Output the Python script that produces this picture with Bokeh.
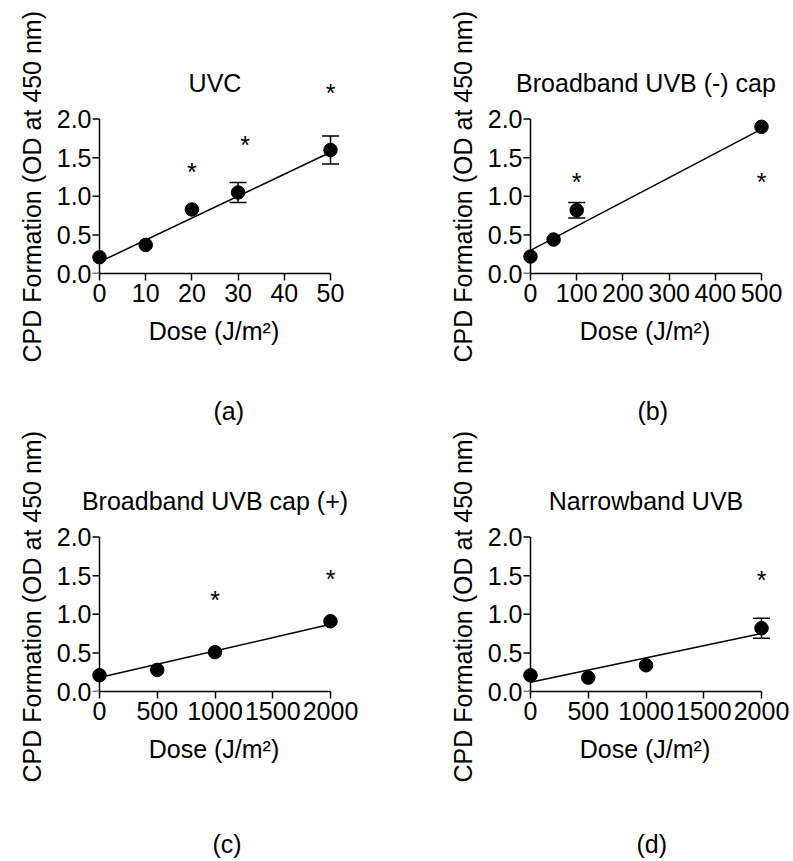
import math
from bokeh.plotting import figure
from bokeh.models import (ColumnDataSource, Whisker, TeeHead, Label, FixedTicker,
                          NumeralTickFormatter, Range1d, Title, LinearAxis)
from bokeh.layouts import column, row
from bokeh.core.properties import value
from bokeh.embed import file_html
from bokeh.resources import INLINE

# ---------------- data ----------------
y_ticks = [0.0, 0.5, 1.0, 1.5, 2.0]
y_label = "CPD Formation (OD at 450 nm)"
x_label = "Dose (J/m²)"

# (a) UVC
a_title = "UVC"
a_dose = [0, 10, 20, 30, 50]
a_cpd = [0.21, 0.37, 0.83, 1.05, 1.60]
a_sem = [0.0, 0.0, 0.0, 0.13, 0.18]          # 0 = bar hidden behind symbol
a_fit = [0.15, 1.57]                          # fitted line at dose 0 and at max dose
a_star_dose = [20, 31.5, 50]
a_star_level = [1.36, 1.70, 2.38]
a_xticks = [0, 10, 20, 30, 40, 50]

# (b) Broadband UVB (-) cap
b_title = "Broadband UVB (-) cap"
b_dose = [0, 50, 100, 500]
b_cpd = [0.22, 0.44, 0.82, 1.90]
b_sem = [0.0, 0.0, 0.10, 0.0]
b_fit = [0.30, 1.87]
b_star_dose = [100, 500]
b_star_level = [1.22, 1.23]
b_xticks = [0, 100, 200, 300, 400, 500]

# (c) Broadband UVB cap (+)
c_title = "Broadband UVB cap (+)"
c_dose = [0, 500, 1000, 2000]
c_cpd = [0.21, 0.28, 0.51, 0.91]
c_sem = [0.0, 0.0, 0.0, 0.0]
c_fit = [0.18, 0.87]
c_star_dose = [1000, 2000]
c_star_level = [1.22, 1.49]
c_xticks = [0, 500, 1000, 1500, 2000]

# (d) Narrowband UVB
d_title = "Narrowband UVB"
d_dose = [0, 500, 1000, 2000]
d_cpd = [0.21, 0.18, 0.34, 0.82]
d_sem = [0.0, 0.0, 0.0, 0.13]
d_fit = [0.12, 0.75]
d_star_dose = [2000]
d_star_level = [1.48]
d_xticks = [0, 500, 1000, 1500, 2000]

tags = ["(a)", "(b)", "(c)", "(d)"]

# ---------------- styling / layout ----------------
FONT = "Liberation Sans"
FS = "25px"
PX_X = 231.0      # pixels from dose 0 to max dose
PX_Y = 77.2       # pixels per 1.0 OD
PAD_L, PAD_R = 22, 20
FRAME_W = int(PX_X) + PAD_L + PAD_R
FRAME_H = 213
TICK = 7


def panel(dose, cpd, sem, fit, star_dose, star_level, xticks, title, tag,
          left, right, top, bottom, tag_offset, tag_gap, ylab_offset):
    xmax = max(xticks)
    sx = xmax / PX_X
    p = figure(frame_width=FRAME_W, frame_height=FRAME_H,
               min_border_left=left, min_border_right=right,
               min_border_top=top, min_border_bottom=bottom,
               x_range=Range1d(-PAD_L * sx, xmax + PAD_R * sx),
               y_range=Range1d(0, FRAME_H / PX_Y),
               output_backend="svg", toolbar_location=None,
               background_fill_color="white", border_fill_color="white")
    p.outline_line_color = None
    p.xgrid.grid_line_color = None
    p.ygrid.grid_line_color = None

    for ax in (p.xaxis[0], p.yaxis[0]):
        ax.axis_line_width = 1.5
        ax.axis_line_color = "black"
        ax.major_tick_line_width = 1.5
        ax.major_tick_line_color = "black"
        ax.major_tick_in = 0
        ax.minor_tick_in = 0
        ax.minor_tick_out = 0
        ax.minor_tick_line_color = None
        ax.major_label_text_font = FONT
        ax.major_label_text_font_size = FS
        ax.major_label_text_color = "black"
        ax.axis_label_text_font = FONT
        ax.axis_label_text_font_size = FS
        ax.axis_label_text_font_style = "normal"
        ax.axis_label_text_color = "black"

    p.xaxis.ticker = FixedTicker(ticks=xticks)
    p.xaxis.bounds = (0, xmax)
    p.xaxis.major_tick_out = TICK
    p.xaxis.axis_label = x_label
    p.xaxis.major_label_standoff = 3
    p.xaxis.axis_label_standoff = 12

    # y axis: labels from the library axis (at the frame edge), rule + ticks at dose 0
    p.yaxis.ticker = FixedTicker(ticks=y_ticks)
    p.yaxis.formatter = NumeralTickFormatter(format="0.0")
    p.yaxis.axis_line_color = None
    p.yaxis.major_tick_line_color = None
    p.yaxis.major_tick_out = 0
    p.yaxis.major_label_standoff = -(PAD_L - TICK - 1)

    n = len(y_ticks)
    p.segment(x0=[0] * n, y0=y_ticks, x1=[-TICK * sx] * n, y1=y_ticks,
              line_color="black", line_width=1.5)
    p.line(x=[0, 0], y=[min(y_ticks), max(y_ticks)], line_color="black", line_width=1.5)

    # fitted line
    p.line(x=[0, xmax], y=fit, line_color="black", line_width=1.5)
    # means
    p.scatter(x=dose, y=cpd, size=13.5, color="black")
    # error bars (only those that show beyond the symbol)
    ex = [d for d, s in zip(dose, sem) if s > 0]
    if ex:
        up = [c + s for c, s in zip(cpd, sem) if s > 0]
        lo = [c - s for c, s in zip(cpd, sem) if s > 0]
        src = ColumnDataSource(dict(x=ex, upper=up, lower=lo))
        p.add_layout(Whisker(base="x", upper="upper", lower="lower", source=src,
                             line_color="black", line_width=1.5,
                             upper_head=TeeHead(size=17, line_width=1.5, line_color="black"),
                             lower_head=TeeHead(size=17, line_width=1.5, line_color="black")))
    # significance stars
    p.text(x=star_dose, y=star_level, text=["*"] * len(star_dose),
           text_font=value(FONT), text_font_size=FS, text_color="black",
           text_align="center", text_baseline="middle", y_offset=3)
    # panel title
    p.add_layout(Label(x=xmax / 2, y=2.47, text=title, text_font=FONT,
                       text_font_size=FS, text_color="black",
                       text_align="center", text_baseline="middle"))
    # y axis title (placed as a side title so it can sit lower than the frame centre)
    p.add_layout(Title(text=y_label, align="left", offset=ylab_offset, standoff=16,
                       text_font=FONT, text_font_size=FS, text_font_style="normal",
                       text_color="black"), "left")
    # blank spacer axis between the x axis and the panel tag (white tick, no label)
    spacer = LinearAxis(ticker=FixedTicker(ticks=[xmax]), axis_line_color=None,
                        major_tick_line_color="white", minor_tick_line_color=None,
                        major_tick_in=0, major_tick_out=tag_gap,
                        minor_tick_in=0, minor_tick_out=0, major_label_standoff=0,
                        major_label_text_color=None, major_label_text_font_size="1px")
    p.add_layout(spacer, "below")
    # panel tag
    p.add_layout(Title(text=tag, align="left", offset=tag_offset, standoff=2,
                       text_font=FONT, text_font_size=FS, text_font_style="normal",
                       text_color="black"), "below")
    return p


pa = panel(a_dose, a_cpd, a_sem, a_fit, a_star_dose, a_star_level, a_xticks,
           a_title, tags[0], 77, 46, 60, 157, 136, 46, -89)
pb = panel(b_dose, b_cpd, b_sem, b_fit, b_star_dose, b_star_level, b_xticks,
           b_title, tags[1], 112, 12, 60, 157, 129, 46, -89)
pc = panel(c_dose, c_cpd, c_sem, c_fit, c_star_dose, c_star_level, c_xticks,
           c_title, tags[2], 77, 46, 48, 170, 135, 61, -91)
pd = panel(d_dose, d_cpd, d_sem, d_fit, d_star_dose, d_star_level, d_xticks,
           d_title, tags[3], 112, 12, 48, 170, 128, 61, -91)

layout = column(row(pa, pb), row(pc, pd))

with open("out.html", "w") as f:
    f.write(file_html(layout, INLINE))
